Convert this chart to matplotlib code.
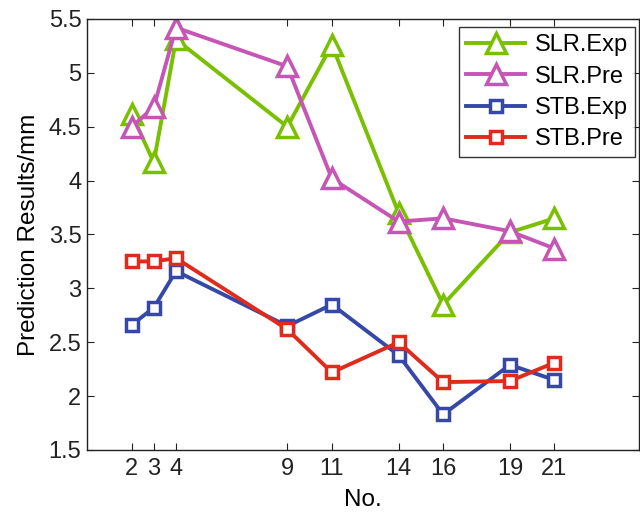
import matplotlib
matplotlib.use("Agg")
import matplotlib.pyplot as plt

x_no = [2, 3, 4, 9, 11, 14, 16, 19, 21]
slr_exp = [4.62, 4.17, 5.31, 4.50, 5.26, 3.70, 2.85, 3.52, 3.65]
slr_pre = [4.50, 4.68, 5.42, 5.06, 4.02, 3.62, 3.65, 3.53, 3.37]
stb_exp = [2.66, 2.82, 3.16, 2.65, 2.85, 2.38, 1.83, 2.29, 2.15]
stb_pre = [3.25, 3.25, 3.28, 2.62, 2.22, 2.50, 2.13, 2.14, 2.31]
yticks = [1.5, 2, 2.5, 3, 3.5, 4, 4.5, 5, 5.5]
ytick_labels = ["1.5", "2", "2.5", "3", "3.5", "4", "4.5", "5", "5.5"]

plt.rcParams['font.family'] = ['Liberation Sans', 'DejaVu Sans']

fig = plt.figure(figsize=(6.4, 5.15), dpi=100)
ax = fig.add_axes([87/640, (515-450)/515, (639-87)/640, (450-19)/515])

green = "#78C000"
magenta = "#C655B5"
blue = "#3548A8"
red = "#E02A1C"

common = dict(linewidth=2.8, markerfacecolor="white", markeredgewidth=2.5)
ax.plot(x_no, slr_exp, color=green, marker="^", markersize=14, markeredgecolor=green, label="SLR.Exp", **common)
ax.plot(x_no, slr_pre, color=magenta, marker="^", markersize=14, markeredgecolor=magenta, label="SLR.Pre", **common)
ax.plot(x_no, stb_exp, color=blue, marker="s", markersize=9, markeredgecolor=blue, label="STB.Exp", **common)
ax.plot(x_no, stb_pre, color=red, marker="s", markersize=9, markeredgecolor=red, label="STB.Pre", **common)

ax.set_xlim(0, 24.8)
ax.set_ylim(1.5, 5.5)
ax.set_xticks(x_no)
ax.set_xticklabels([str(v) for v in x_no])
ax.set_yticks(yticks)
ax.set_yticklabels(ytick_labels)
ax.tick_params(direction="in", length=5, width=0.8, labelsize=17, top=True, right=True,
               colors="#222222")
ax.tick_params(axis="x", pad=6)
ax.tick_params(axis="y", pad=4)
for s in ax.spines.values():
    s.set_linewidth(1.0)
    s.set_color("#222222")

ax.set_xlabel("No.", fontsize=17.5, labelpad=6)
ax.set_ylabel("Prediction Results/mm", fontsize=17.5, labelpad=6)

leg = ax.legend(loc="upper right", bbox_to_anchor=((635-87)/552, (450-27)/431),
                fontsize=17, frameon=True, fancybox=False,
                edgecolor="black", handlelength=2.5, borderaxespad=0.0,
                labelspacing=0.4, handletextpad=0.4, borderpad=0.3)
leg.get_frame().set_linewidth(1.0)

fig.savefig("out.png", dpi=100)
